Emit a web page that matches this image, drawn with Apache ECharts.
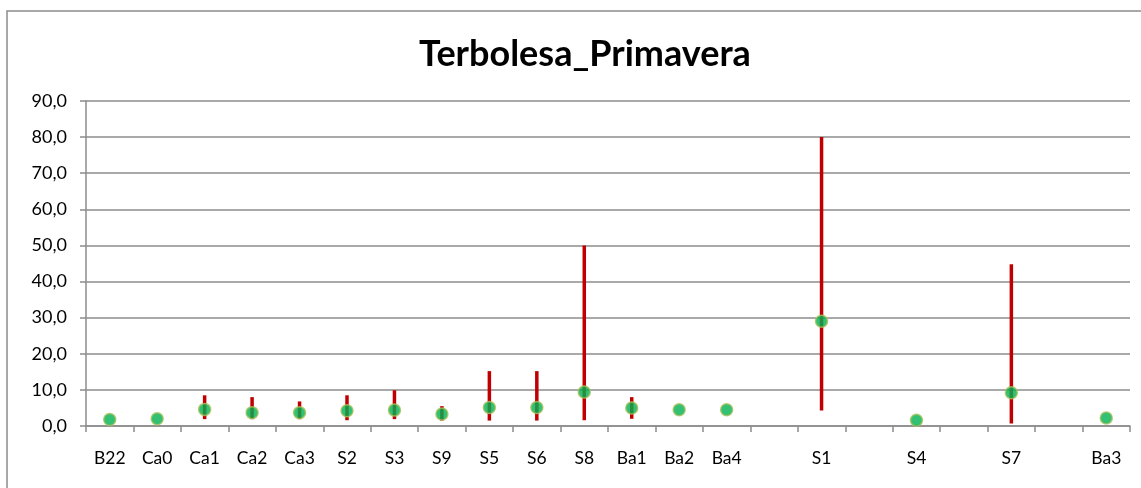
<!DOCTYPE html>
<html>
<head>
<meta charset="utf-8">
<script src="https://cdn.jsdelivr.net/npm/echarts@6/dist/echarts.min.js"></script>
<style>
  html, body { margin: 0; padding: 0; background: #fff; }
  #chart { width: 1141px; height: 488px; }
</style>
</head>
<body>
<div id="chart"></div>
<script>
// Sampling stations (blank slots keep the wider spacing of the last four)
const stations = ['B22', 'Ca0', 'Ca1', 'Ca2', 'Ca3', 'S2', 'S3', 'S9', 'S5', 'S6', 'S8',
                  'Ba1', 'Ba2', 'Ba4', '', 'S1', '', 'S4', '', 'S7', '', 'Ba3'];
// Central value per station
const meanValues = [1.8, 2.0, 4.6, 3.7, 3.7, 4.2, 4.4, 3.3, 5.1, 5.1, 9.4,
                    5.0, 4.5, 4.5, null, 29.0, null, 1.6, null, 9.2, null, 2.2];
// Range (minimum / maximum) per station
const minValues = [null, null, 1.9, 1.9, 1.9, 1.6, 1.9, 1.5, 1.5, 1.5, 1.6,
                   2.0, null, null, null, 4.3, null, null, null, 0.7, null, null];
const maxValues = [null, null, 8.5, 8.0, 6.8, 8.5, 9.9, 5.5, 15.2, 15.2, 50.0,
                   8.0, null, null, null, 80.0, null, null, null, 44.8, null, null];
// Value axis ticks
const yMin = 0, yMax = 90, yStep = 10;

const rangeData = [];
stations.forEach((s, i) => {
  if (minValues[i] != null && maxValues[i] != null) rangeData.push([i, minValues[i], maxValues[i]]);
});
const pointData = meanValues.map((v, i) => (v == null ? [i, '-'] : [i, v]));

const chart = echarts.init(document.getElementById('chart'), null, { renderer: 'canvas' });
const font = 'Lato, "Liberation Sans", sans-serif';

chart.setOption({
  animation: false,
  backgroundColor: '#ffffff',
  title: {
    text: 'Terbolesa_Primavera',
    left: 580,
    top: 31,
    textAlign: 'center',
    textStyle: { fontFamily: font, fontWeight: 'bold', fontSize: 36, color: '#000' }
  },
  graphic: [{
    type: 'rect',
    shape: { x: 7, y: 11, width: 1200, height: 600 },
    style: { fill: 'none', stroke: '#8c8c8c', lineWidth: 1.5 },
    silent: true
  }],
  grid: { left: 86, right: 11, top: 101, bottom: 62, containLabel: false },
  xAxis: {
    type: 'category',
    data: stations,
    boundaryGap: true,
    axisLine: { lineStyle: { color: '#8c8c8c', width: 1.5 } },
    axisTick: { show: true, interval: 0, length: 6, lineStyle: { color: '#8c8c8c', width: 1.5 } },
    axisLabel: { interval: 0, margin: 23, fontFamily: font, fontSize: 17.5, color: '#000' },
    splitLine: { show: false }
  },
  yAxis: {
    type: 'value',
    min: yMin,
    max: yMax,
    interval: yStep,
    axisLine: { show: true, lineStyle: { color: '#8c8c8c', width: 1.5 } },
    axisTick: { show: true, length: 6, lineStyle: { color: '#8c8c8c', width: 1.5 } },
    axisLabel: {
      margin: 19,
      fontFamily: font, fontSize: 18, color: '#000',
      formatter: v => v.toFixed(1).replace('.', ',')
    },
    splitLine: { show: true, lineStyle: { color: '#8c8c8c', width: 1.5 } }
  },
  series: [
    {
      type: 'custom',
      name: 'range',
      data: rangeData,
      encode: { x: 0, y: [1, 2] },
      z: 2,
      renderItem: function (params, api) {
        const lo = api.coord([api.value(0), api.value(1)]);
        const hi = api.coord([api.value(0), api.value(2)]);
        return {
          type: 'line',
          shape: { x1: lo[0], y1: lo[1], x2: hi[0], y2: hi[1] },
          style: { stroke: '#c00000', lineWidth: 3.5 }
        };
      }
    },
    {
      type: 'scatter',
      name: 'media',
      data: pointData,
      symbol: 'circle',
      symbolSize: 12,
      z: 3,
      itemStyle: { color: '#00b050', borderColor: '#a6c25a', borderWidth: 1.5 }
    }
  ]
});
</script>
</body>
</html>
